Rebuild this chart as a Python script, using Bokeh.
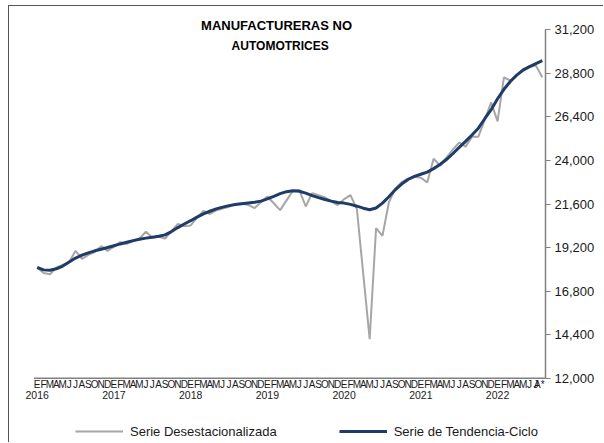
from bokeh.plotting import figure
from bokeh.models import (FixedTicker, NumeralTickFormatter, Legend, LegendItem,
                          Label, Range1d, ColumnDataSource, InlineStyleSheet)
from bokeh.core.properties import value
from bokeh.embed import file_html
from bokeh.resources import INLINE

# ---- data ----
years = ["2016", "2017", "2018", "2019", "2020", "2021", "2022"]
month_letters = ["E", "F", "M", "A", "M", "J", "J", "A", "S", "O", "N", "D"]

desestacionalizada = [
    18100, 17800, 17730, 18100, 18250, 18400, 19020, 18580, 18800, 18950, 19280, 19020,   # 2016
    19250, 19500, 19400, 19550, 19700, 20070, 19750, 19800, 19700, 20100, 20500, 20380,   # 2017
    20420, 20850, 21225, 21050, 21250, 21350, 21450, 21600, 21630, 21550, 21375, 21700,   # 2018
    22014, 21640, 21264, 21800, 22330, 22367, 21462, 22200, 22080, 21960, 21750, 21540,   # 2019
    21870, 22090, 21320, 17730, 14150, 20270, 19846, 21683, 22450, 22800, 23000, 23100,   # 2020
    23050, 22790, 24100, 23710, 24150, 24600, 24990, 24760, 25300, 25310, 26250, 27200,   # 2021
    26150, 28580, 28400, 28700, 29040, 29150, 29225, 28580,                               # 2022
]
tendencia = [
    18100, 17970, 17950, 18030, 18180, 18400, 18620, 18780, 18910, 19020, 19110, 19200,   # 2016
    19300, 19400, 19490, 19580, 19660, 19720, 19770, 19820, 19900, 20080, 20300, 20500,   # 2017
    20680, 20880, 21060, 21200, 21330, 21430, 21510, 21570, 21620, 21660, 21700, 21760,   # 2018
    21880, 22020, 22170, 22280, 22330, 22300, 22200, 22060, 21950, 21850, 21760, 21680,   # 2019
    21650, 21580, 21480, 21370, 21280, 21380, 21650, 22000, 22380, 22700, 22950, 23120,   # 2020
    23240, 23360, 23550, 23780, 24050, 24370, 24720, 25050, 25400, 25780, 26300, 26800,   # 2021
    27400, 27920, 28350, 28700, 28980, 29170, 29340, 29500,                               # 2022
]
y_ticks = [12000, 14400, 16800, 19200, 21600, 24000, 26400, 28800, 31200]
title_lines = ["MANUFACTURERAS   NO", "AUTOMOTRICES"]
series_names = ["Serie Desestacionalizada", "Serie de Tendencia-Ciclo"]

n = len(desestacionalizada)
idx = list(range(n))
month_labels = [month_letters[i % 12] for i in idx]
month_labels[-1] = month_labels[-1] + "*"
jan = [i for i in idx if i % 12 == 0]

y_lo, y_hi = y_ticks[0], y_ticks[-1]
x_lo, x_hi = -0.5, n - 0.5

FONT = "Liberation Sans"

# chart box (left and top edges), drawn as an overlay so it does not affect layout
border_css = InlineStyleSheet(css=""":host::before {
  content: ""; position: absolute; left: 8px; top: 5px; right: 0; bottom: 0;
  border-left: 1px solid #555555; border-top: 1px solid #555555;
  pointer-events: none; z-index: 10;
}""")

# the frame covers the whole drawing area (title, labels and legend live inside it);
# the value axis is bounded to the data range
p = figure(width=603, height=442, output_backend="svg", toolbar_location=None,
           x_range=Range1d(-5.74, x_hi), y_range=Range1d(8457, 32815),
           y_axis_location="right", x_axis_type=None,
           min_border_left=0, min_border_right=58, min_border_top=0, min_border_bottom=0,
           stylesheets=[border_css])
p.outline_line_color = None
p.xgrid.grid_line_color = None
p.ygrid.grid_line_color = None
p.background_fill_color = "white"
p.border_fill_color = "white"

# y axis (right)
ya = p.yaxis[0]
ya.bounds = (y_lo, y_hi)
ya.ticker = FixedTicker(ticks=y_ticks)
ya.formatter = NumeralTickFormatter(format="0,0")
ya.axis_line_color = "#808080"
ya.axis_line_width = 1.5
ya.major_tick_line_color = "#808080"
ya.major_tick_out = 5
ya.major_tick_in = 0
ya.minor_tick_line_color = None
ya.major_label_standoff = 4
ya.major_label_text_font = FONT
ya.major_label_text_font_size = "13px"
ya.major_label_text_color = "#1a1a1a"

# category (time) axis line, month letters and years
p.segment(x0=[x_lo], y0=[y_lo], x1=[x_hi], y1=[y_lo], line_color="#808080", line_width=1.5)
month_shift = [0] * (n - 1) + [-3]   # keep the last label ("A*") inside the frame
p.text(x=idx, y=[y_lo] * n, text=month_labels, text_align="center", text_baseline="top",
       x_offset=month_shift, y_offset=1, text_font=value(FONT), text_font_size="10px",
       text_color="#1a1a1a")
p.text(x=jan, y=[y_lo] * len(jan), text=years, text_align="center", text_baseline="top",
       y_offset=13, text_font=value(FONT), text_font_size="10.5px", text_color="#1a1a1a")

src = ColumnDataSource(dict(x=idx, sa=desestacionalizada, tc=tendencia))
r_sa = p.line("x", "sa", source=src, line_color="#A6A6A6", line_width=2)
r_tc = p.line("x", "tc", source=src, line_color="#1F3B68", line_width=3)

# title
p.add_layout(Label(x=38.0, y=31437, text=title_lines[0], text_align="center",
                   text_baseline="middle", text_font=FONT, text_font_size="13px",
                   text_font_style="bold", text_color="#000000"))
p.add_layout(Label(x=38.0, y=30335, text=title_lines[1], text_align="center",
                   text_baseline="middle", text_font=FONT, text_font_size="12px",
                   text_font_style="bold", text_color="#000000"))

legend = Legend(items=[LegendItem(label=series_names[0], renderers=[r_sa]),
                       LegendItem(label=series_names[1], renderers=[r_tc])],
                orientation="horizontal", location=(75, 3),
                margin=0, padding=0, spacing=62, label_standoff=7,
                glyph_width=48, glyph_height=16, label_height=16,
                label_text_font=FONT, label_text_font_size="13px",
                label_text_color="#1a1a1a", border_line_color=None,
                background_fill_alpha=0)
p.add_layout(legend, "center")

open("out.html", "w").write(file_html(p, INLINE))
